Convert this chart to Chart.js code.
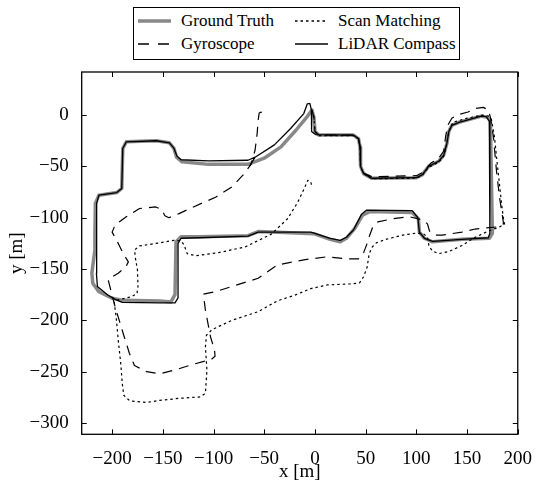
<!DOCTYPE html>
<html lang="en">
<head>
<meta charset="UTF-8">
<title>Trajectories</title>
<script src="https://cdn.jsdelivr.net/npm/chart.js"></script>
<style>
  body { margin: 0; background: #fff; }
  .wrap { position: relative; width: 537px; height: 485px; }
  .legend { position: absolute; left: 133px; top: 7px; width: 325px; height: 51px; border: 1px solid #000; background: #fff;
            font-family: "Liberation Serif", "DejaVu Serif", serif; font-size: 17px; color: #000; }
  .item { position: absolute; height: 22px; line-height: 22px; white-space: nowrap; }
  .item svg { position: absolute; left: 0; top: 8px; }
  .item span { position: absolute; left: 43px; top: 0; }
</style>
</head>
<body>
<div class="wrap">
  <canvas id="traj" width="537" height="485"></canvas>
  <div class="legend">
    <div class="item" style="left:4px; top:2px;">
      <svg width="33" height="6"><line x1="0" y1="3" x2="33" y2="3" stroke="#888" stroke-width="3.5"/></svg>
      <span>Ground Truth</span>
    </div>
    <div class="item" style="left:4px; top:25px;">
      <svg width="33" height="6"><line x1="0" y1="3" x2="33" y2="3" stroke="#000" stroke-width="1.3" stroke-dasharray="11 9"/></svg>
      <span>Gyroscope</span>
    </div>
    <div class="item" style="left:161px; top:2px;">
      <svg width="33" height="6"><line x1="0" y1="3" x2="33" y2="3" stroke="#000" stroke-width="1.3" stroke-dasharray="2.5 3"/></svg>
      <span>Scan Matching</span>
    </div>
    <div class="item" style="left:161px; top:25px;">
      <svg width="33" height="6"><line x1="0" y1="3" x2="33" y2="3" stroke="#000" stroke-width="1.3"/></svg>
      <span>LiDAR Compass</span>
    </div>
  </div>
</div>

<script>
// trajectories [x, y] in metres
const groundTruth = [[-3,5],[-1,-2],[0,-16],[4,-19.5],[38,-19.5],[43,-23],[44.5,-31],[45,-50],[48,-57],[56,-61.5],
  [100,-61],[106,-58],[112,-50],[122,-45],[127,-39],[130,-28],[132,-16],[135,-10],[142,-7],[164,-1],[170,-2],[173,-6],
  [175,-115],[172,-120],[145,-121],[116,-123.5],[108,-120],[103,-114],[102,-101],[96,-95],[54,-94],[47,-97.5],
  [39.5,-110],[31,-120],[25,-123.5],[15,-121],[-1,-115.5],[-30,-114.5],[-56,-113.5],[-66,-117.5],[-114,-118.5],
  [-132,-118.5],[-137,-123.5],[-138,-175],[-142,-182],[-153,-181],[-189,-180.5],[-200,-178.5],[-213,-172],[-219,-164],
  [-220,-154],[-217,-131.5],[-217,-118.5],[-216.5,-86],[-213,-78],[-195.5,-75.5],[-190.5,-71.5],[-189.5,-32.5],
  [-186,-26],[-156.5,-25],[-143.5,-27],[-139,-32.5],[-136.5,-41],[-131,-45.5],[-105,-48],[-66,-48],[-50,-42],
  [-33.5,-31],[-19,-15],[-8,-2],[-3,5]];

const gyroscope = [[-3,5],[-1,-2],[0,-16],[4,-19.5],[38,-19.5],[43,-23],[44.5,-31],[45,-50],[48,-56.5],[56,-60],
  [100,-59],[108,-55],[114,-47],[122,-42],[127,-35],[129,-20],[131,-10],[135,-3],[140,0],[151,3],[158,6.5],[166,7.5],
  [171,5],[173,-2],[176,-21],[179,-54],[182,-80],[185,-99],[186,-106],[179,-109],[158,-111],[145,-114],[125,-117],
  [118,-117],[113,-113],[111,-106],[106,-102],[93,-99],[77,-101],[62,-104],[57,-109],[54,-117],[51.5,-125],[48,-134],
  [43,-140],[31,-140],[12,-138],[-11,-141],[-37,-146],[-56,-159],[-82,-167],[-98,-172],[-110,-174.5],[-108,-190],
  [-103,-216],[-99,-229],[-98.5,-235],[-102,-238],[-121,-243],[-137,-248],[-153,-252],[-166,-250],[-178,-244],
  [-183,-232],[-189,-213],[-197,-187],[-203,-164],[-204,-160],[-194,-154],[-186.5,-148],[-184,-143],[-189,-135],
  [-195.5,-122],[-200,-114],[-197,-107],[-186,-99],[-173,-91],[-157,-89.5],[-151,-92],[-148,-98],[-144,-100],
  [-134,-96],[-121,-90],[-98,-80],[-82,-70],[-71,-58.5],[-63,-48],[-59,-34],[-57,-18],[-56,-5],[-55,2],[-53,3],[-51,-1]];

const scanMatching = [[-3,5],[-1,-2],[0,-16],[4,-20],[38,-20],[43,-23],[44.5,-31],[45,-50],[48,-57],[56,-62],
  [100,-61.5],[106,-58.5],[112,-51],[122,-46],[127,-40],[130,-28],[132,-16],[136,-7],[150,-3],[165,0],[172,-1],
  [174,-4],[177,-21],[180.5,-54],[184,-86],[186,-102],[187,-106],[182,-109],[171,-113],[158,-119],[145,-127],
  [132,-133],[122,-135],[116,-132.5],[112.5,-128],[111,-119],[107.5,-116],[99.5,-115],[86.5,-117],[70,-121],
  [60.5,-124.5],[56.5,-128.5],[53.5,-135],[51.5,-148],[48,-157.5],[44,-163.5],[34.5,-164.5],[12,-165.5],[-4,-169],
  [-20,-175.5],[-37,-181],[-56,-191.5],[-82,-200],[-101.5,-209],[-107,-214.5],[-108,-226],[-106.5,-248.5],
  [-108,-271],[-113,-274.5],[-134,-276],[-153.5,-278],[-166,-280],[-182.5,-278.5],[-188.5,-273],[-190,-261.5],
  [-191.5,-242],[-194,-219],[-196,-197],[-198,-182],[-194,-180],[-181,-177],[-175.5,-174],[-174.5,-167],[-175,-151],
  [-177.5,-136.5],[-177.5,-131],[-173,-127.5],[-153.5,-124.5],[-139,-122],[-132,-122.5],[-129,-126.5],[-126,-135],
  [-117.5,-137],[-95,-134],[-69,-128.5],[-43,-116],[-27,-101],[-17,-85],[-10.5,-71.5],[-7,-63.5],[-4,-65],[-3.5,-68]];

const lidarCompass = [[-64,-49],[-59,-41],[-40,-29],[-24,-13],[-11,1.5],[-7.5,11],[-5,11.5],[-3.5,5],[-3.3,-16],
  [0.5,-19],[38,-19.5],[43,-23],[44.5,-31],[45,-50],[48,-57],[56,-61.5],[100,-61],[106,-58],[112,-50],[122,-45],
  [127,-39],[130,-28],[132,-16],[135,-10],[142,-7],[164,-1],[169,-1.5],[172,-6],[172.5,-115],[171,-119.5],[145,-121],
  [116,-123],[108,-120],[103,-114],[101.5,-100],[96,-93],[51,-92.5],[46,-96.5],[38,-112],[31,-119],[25,-122],
  [15,-120],[-4,-114],[-37,-114],[-56,-114],[-66,-118],[-114,-119.5],[-132,-120],[-135,-125],[-135,-178],
  [-138,-183],[-153,-183],[-190,-182.5],[-197,-179.5],[-204,-175.5],[-214.5,-167],[-215.5,-154],[-215,-132],
  [-215.5,-86],[-213,-78],[-195.5,-75.5],[-190.5,-71.5],[-189.5,-32.5],[-186,-26],[-156.5,-25],[-143.5,-27],
  [-139,-32.5],[-136,-40],[-132,-43.5],[-105,-44.5],[-66,-44],[-59,-41]];

const xTicks = [-200, -150, -100, -50, 0, 50, 100, 150, 200];
const yTicks = [-300, -250, -200, -150, -100, -50, 0];

// set the serif font globally as well, so every scale picks it up
Chart.defaults.font.family = "'Liberation Serif', 'DejaVu Serif', serif";
Chart.defaults.font.size = 19;
Chart.defaults.color = '#000';

const font = { family: "'Liberation Serif', 'DejaVu Serif', serif", size: 19 };
const fmt = v => v < 0 ? '\u2212' + Math.abs(v) : String(v);

function series(label, pts, color, width, dash, order) {
  return {
    label: label,
    data: pts.map(p => ({ x: p[0], y: p[1] })),
    showLine: true,
    borderColor: color,
    borderWidth: width,
    borderDash: dash,
    borderJoinStyle: 'round',
    borderCapStyle: dash.length ? 'butt' : 'round',
    pointRadius: 0,
    pointHoverRadius: 0,
    tension: 0,
    order: order
  };
}

// inward ticks on all four sides plus the frame
const frameTicks = {
  id: 'frameTicks',
  afterDraw(chart) {
    const { ctx, chartArea: a, scales: { x, y } } = chart;
    ctx.save();
    ctx.strokeStyle = '#000';
    ctx.lineWidth = 1;
    ctx.beginPath();
    xTicks.forEach(v => {
      const px = Math.round(x.getPixelForValue(v)) + 0.5;
      ctx.moveTo(px, a.bottom); ctx.lineTo(px, a.bottom - 5);
      ctx.moveTo(px, a.top); ctx.lineTo(px, a.top + 5);
    });
    yTicks.forEach(v => {
      const py = Math.round(y.getPixelForValue(v)) + 0.5;
      ctx.moveTo(a.left, py); ctx.lineTo(a.left + 5, py);
      ctx.moveTo(a.right, py); ctx.lineTo(a.right - 5, py);
    });
    ctx.stroke();
    ctx.lineWidth = 1.3;
    ctx.strokeRect(a.left, a.top, a.right - a.left, a.bottom - a.top);
    ctx.restore();
  }
};

new Chart(document.getElementById('traj'), {
  type: 'scatter',
  data: {
    datasets: [
      series('Ground Truth', groundTruth, '#888888', 3.5, [], 10),
      series('Gyroscope', gyroscope, '#000', 1.2, [10, 7], 0),
      series('Scan Matching', scanMatching, '#000', 1.2, [2.5, 3], 0),
      series('LiDAR Compass', lidarCompass, '#000', 1.3, [], 0)
    ]
  },
  options: {
    responsive: false,
    animation: false,
    events: [],
    layout: { padding: { left: 0, right: 14.3, top: 72, bottom: 0 } },
    plugins: { legend: { display: false }, tooltip: { enabled: false } },
    scales: {
      x: {
        type: 'linear', min: -230, max: 200,
        grid: { display: false }, border: { display: false },
        afterBuildTicks: s => { s.ticks = xTicks.map(v => ({ value: v })); },
        afterFit: s => { s.height = 50.7; },
        ticks: { callback: fmt, font: font, color: '#000', padding: 5, maxRotation: 0, autoSkip: false },
        title: { display: true, text: 'x [m]', font: font, color: '#000', padding: { top: 0, bottom: 2 } }
      },
      y: {
        type: 'linear', min: -311, max: 42,
        grid: { display: false }, border: { display: false },
        afterBuildTicks: s => { s.ticks = yTicks.map(v => ({ value: v })); },
        afterFit: s => { s.width = 81.7; },
        ticks: { callback: fmt, font: font, color: '#000', padding: 5, autoSkip: false },
        title: { display: true, text: 'y [m]', font: font, color: '#000', padding: { top: 6, bottom: 0 } }
      }
    }
  },
  plugins: [frameTicks]
});
</script>
</body>
</html>
